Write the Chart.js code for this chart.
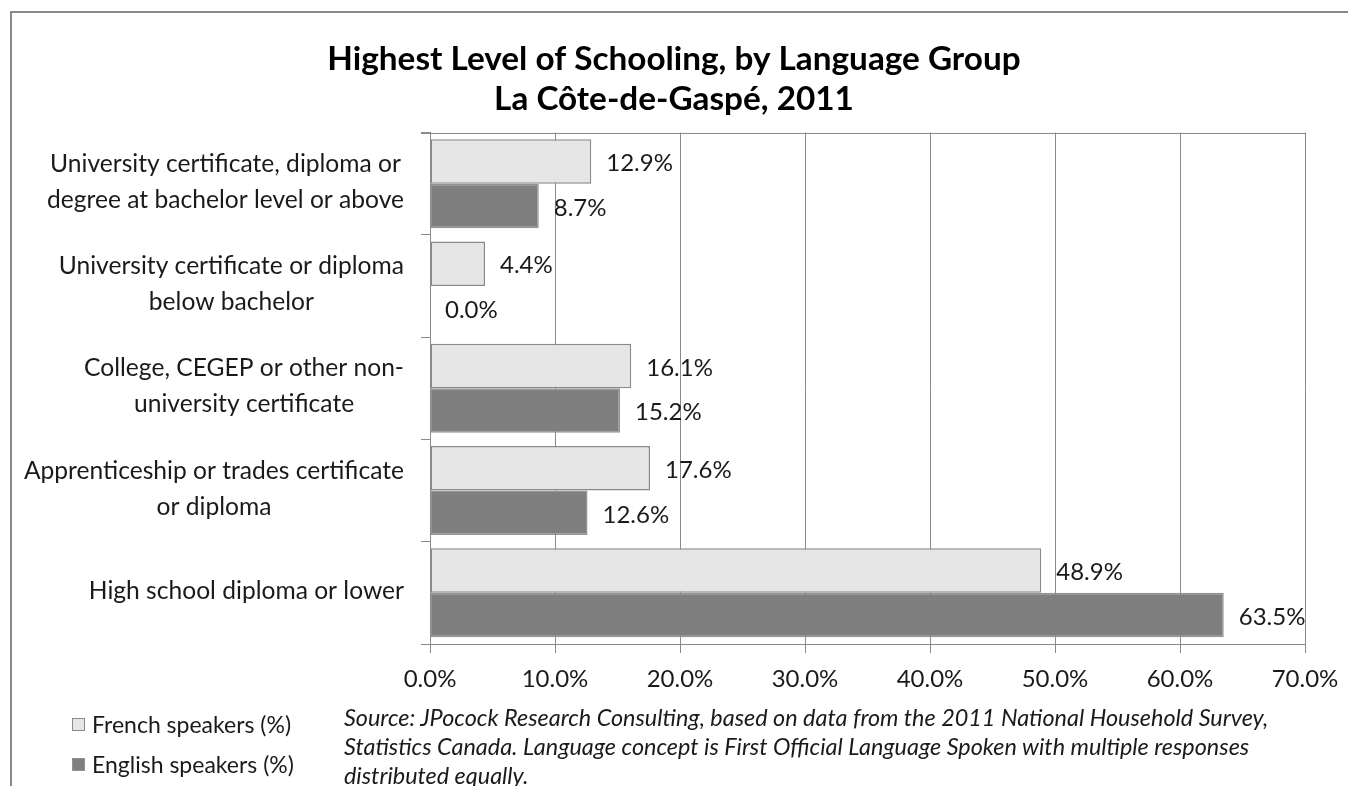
<!DOCTYPE html>
<html>
<head>
<meta charset="utf-8">
<title>Highest Level of Schooling, by Language Group</title>
<script src="https://cdn.jsdelivr.net/npm/chart.js@4.4.1/dist/chart.umd.min.js"></script>
<style>
  html, body { margin: 0; padding: 0; background: #fff; }
  body { width: 1348px; height: 786px; position: relative; overflow: hidden; font-family: Lato, "Open Sans", sans-serif; color: #1a1a1a; }
  #frame { position: absolute; left: 10px; top: 11px; width: 1400px; height: 900px; border-left: 2px solid #8a8a8a; border-top: 2px solid #8a8a8a; }
  #wrap { position: absolute; left: 0; top: 0; width: 1348px; height: 786px; }
  #legend { position: absolute; left: 72px; top: 710px; font-size: 23px; }
  #legend .item { display: flex; align-items: center; height: 28px; margin-bottom: 12px; white-space: nowrap; }
  #legend .box { width: 13px; height: 13px; box-sizing: border-box; border: 1px solid #8c8c8c; margin-right: 7px; }
  #note { position: absolute; left: 344px; top: 703px; font-style: italic; font-size: 23.4px; line-height: 29px; white-space: nowrap; }
</style>
</head>
<body>
<div id="frame"></div>
<div id="wrap"><canvas id="chart" width="1348" height="786"></canvas></div>
<div id="legend"></div>
<div id="note"></div>
<script>
// Education levels (wrapped onto two lines where needed)
const categories = [
  ["University certificate, diploma or", "degree at bachelor level or above"],
  ["University certificate or diploma", "below bachelor"],
  ["College, CEGEP or other non-", "university certificate"],
  ["Apprenticeship or trades certificate", "or diploma"],
  ["High school diploma or lower"]
];

const seriesNames = ["French speakers (%)", "English speakers (%)"];

// Share of each language group by highest level of schooling (%)
const frenchValues  = [12.9, 4.4, 16.1, 17.6, 48.9];
const englishValues = [8.7, 0.0, 15.2, 12.6, 63.5];

// Value axis ticks (%)
const axisTicks = [0, 10, 20, 30, 40, 50, 60, 70];

const titleLines = ["Highest Level of Schooling, by Language Group", "La Côte-de-Gaspé, 2011"];

const sourceLines = [
  "Source: JPocock Research Consulting, based on data from the 2011 National Household Survey,",
  "Statistics Canada. Language concept is First Official Language Spoken with multiple responses",
  "distributed equally."
];

const seriesFill   = ["#e6e6e6", "#7f7f7f"];
const seriesBorder = ["#8a8a8a", "#939393"];
const gridColor = "#8a8a8a";
const textColor = "#1a1a1a";
const FONT = "Lato, 'Open Sans', sans-serif";

const pct = v => v.toFixed(1) + "%";

// Value labels placed just past the end of each bar
const barValueLabels = {
  id: "barValueLabels",
  afterDatasetsDraw(chart) {
    const ctx = chart.ctx;
    ctx.save();
    ctx.font = "24px " + FONT;
    ctx.fillStyle = textColor;
    ctx.textAlign = "left";
    ctx.textBaseline = "middle";
    chart.data.datasets.forEach((ds, di) => {
      chart.getDatasetMeta(di).data.forEach((bar, i) => {
        ctx.fillText(pct(ds.data[i]), bar.x + 15, bar.y + 2);
      });
    });
    ctx.restore();
  }
};

// Category names: lines centred on one another, block set against the tick marks
const categoryLabels = {
  id: "categoryLabels",
  afterDraw(chart) {
    const { ctx, chartArea } = chart;
    const yScale = chart.scales.y;
    const lineGap = 36;
    const rightEdge = chartArea.left - 26;
    ctx.save();
    ctx.font = "24.6px " + FONT;
    ctx.fillStyle = textColor;
    ctx.textAlign = "center";
    ctx.textBaseline = "middle";
    chart.data.labels.forEach((lines, i) => {
      const y = yScale.getPixelForValue(i) - 2;
      const maxW = Math.max(...lines.map(l => ctx.measureText(l).width));
      const cx = rightEdge - maxW / 2;
      lines.forEach((line, k) => {
        ctx.fillText(line, cx, y + (k - (lines.length - 1) / 2) * lineGap);
      });
    });
    ctx.restore();
  }
};

// Top edge of the plot area, continuing over the category tick column
const plotTopEdge = {
  id: "plotTopEdge",
  afterDraw(chart) {
    const { ctx, chartArea } = chart;
    const y = Math.round(chartArea.top) + 0.5;
    ctx.save();
    ctx.strokeStyle = gridColor;
    ctx.lineWidth = 1;
    ctx.beginPath();
    ctx.moveTo(chartArea.left - 9, y);
    ctx.lineTo(chartArea.right, y);
    ctx.stroke();
    ctx.restore();
  }
};

const chart = new Chart(document.getElementById("chart"), {
  type: "bar",
  data: {
    labels: categories,
    datasets: [
      { label: seriesNames[0], data: frenchValues,  backgroundColor: seriesFill[0], borderColor: seriesBorder[0], borderWidth: 1.5, borderSkipped: false },
      { label: seriesNames[1], data: englishValues, backgroundColor: seriesFill[1], borderColor: seriesBorder[1], borderWidth: 1.5, borderSkipped: false }
    ]
  },
  options: {
    indexAxis: "y",
    responsive: false,
    animation: false,
    events: [],
    datasets: { bar: { barPercentage: 1.0, categoryPercentage: 0.87 } },
    layout: { padding: { left: 43, right: 43, top: 0, bottom: 82 } },
    plugins: {
      legend: { display: false },
      tooltip: { enabled: false },
      title: {
        display: true,
        text: titleLines,
        color: "#000",
        font: { family: FONT, size: 33.3, weight: "bold", lineHeight: 1.21 },
        padding: { top: 39, bottom: 13 }
      }
    },
    scales: {
      x: {
        type: "linear",
        min: axisTicks[0],
        max: axisTicks[axisTicks.length - 1],
        afterBuildTicks(scale) { scale.ticks = axisTicks.map(v => ({ value: v })); },
        afterFit(scale) {
          scale.height = 60;
          scale.paddingLeft = 0;
          scale.paddingRight = 0;
        },
        grid: { color: gridColor, lineWidth: 1, tickLength: 9, drawTicks: true },
        border: { display: true, color: gridColor, width: 1 },
        ticks: {
          color: textColor,
          font: { family: FONT, size: 24 },
          padding: 12,
          maxRotation: 0,
          callback: v => pct(v)
        }
      },
      y: {
        afterFit(scale) { scale.width = 387; },
        grid: { offset: true, drawOnChartArea: false, drawTicks: true, tickLength: 9, color: gridColor },
        border: { display: true, color: gridColor, width: 1 },
        ticks: { display: false }
      }
    }
  },
  plugins: [barValueLabels, categoryLabels, plotTopEdge]
});

// Legend list built from the chart's datasets
const legendEl = document.getElementById("legend");
chart.data.datasets.forEach(ds => {
  const item = document.createElement("div");
  item.className = "item";
  const box = document.createElement("span");
  box.className = "box";
  box.style.background = ds.backgroundColor;
  box.style.borderColor = ds.borderColor;
  const label = document.createElement("span");
  label.textContent = ds.label;
  item.appendChild(box);
  item.appendChild(label);
  legendEl.appendChild(item);
});

// Source note beneath the axis
const noteEl = document.getElementById("note");
sourceLines.forEach(line => {
  const div = document.createElement("div");
  div.textContent = line;
  noteEl.appendChild(div);
});
</script>
</body>
</html>
